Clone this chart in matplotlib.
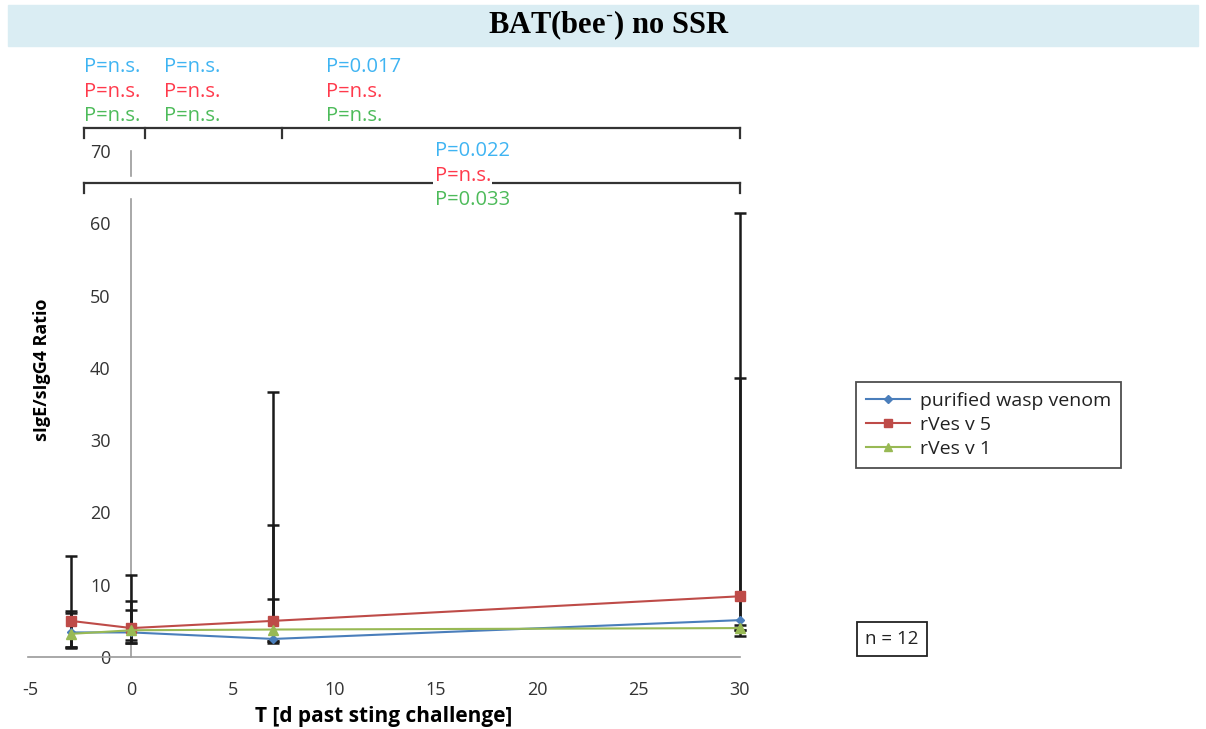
import numpy as np
import matplotlib.pyplot as plt
from matplotlib.patches import Rectangle

plt.rcParams['font.family'] = ['Open Sans', 'DejaVu Sans']
plt.rcParams['mathtext.fontset'] = 'stix'
plt.rcParams['axes.unicode_minus'] = False

# data
days = [-3, 0, 7, 30]
names = ['purified wasp venom', 'rVes v 5', 'rVes v 1']
wasp = [3.4, 3.4, 2.5, 5.1]
wasp_lo = [1.2, 2.4, 2.2, 2.9]
wasp_hi = [6.4, 7.7, 18.3, 38.6]
ves5 = [5.0, 4.0, 5.0, 8.4]
ves5_lo = [1.4, 2.0, 2.2, 3.7]
ves5_hi = [14.0, 11.4, 36.7, 61.4]
ves1 = [3.2, 3.7, 3.8, 4.0]
ves1_lo = [1.4, 2.0, 2.0, 3.7]
ves1_hi = [6.1, 6.5, 8.0, 4.4]

colors = ['#4a7ebb', '#be4b48', '#98b954']
markers = ['D', 's', '^']
msizes = [4.5, 6.5, 7]

pcol = ['#3fb4f2', '#ff3a4c', '#4dbb5a']
# p-values: per bracket, blue/red/green rows
p_top = [['P=n.s.', 'P=n.s.', 'P=n.s.'],
         ['P=n.s.', 'P=n.s.', 'P=n.s.'],
         ['P=0.017', 'P=n.s.', 'P=n.s.']]
p_long = ['P=0.022', 'P=n.s.', 'P=0.033']

W, H = 1206, 729
fig = plt.figure(figsize=(W / 100, H / 100), dpi=100)

# title banner
fig.patches.append(Rectangle((8 / W, 1 - 46 / H), 1190 / W, 41 / H,
                             transform=fig.transFigure, color='#daedf3', zorder=0))
fig.text(609 / W, 1 - 25 / H, r'BAT(bee$^{\text{-}}$) no SSR', ha='center', va='center',
         fontsize=22, fontweight='bold', family='Liberation Serif')

ax = fig.add_axes([28 / W, 72 / H, 712 / W, 506 / H])
ax.set_xlim(-5.1, 30)
ax.set_ylim(0, 70)

series = [(wasp, wasp_lo, wasp_hi), (ves5, ves5_lo, ves5_hi), (ves1, ves1_lo, ves1_hi)]
for (v, lo, hi) in series:
    v = np.array(v)
    yerr = [v - np.array(lo), np.array(hi) - v]
    eb = ax.errorbar(days, v, yerr=yerr, fmt='none', ecolor='#1a1a1a', elinewidth=1.8,
                     capsize=4, capthick=1.8, zorder=3)
    for art in eb.lines[1] + eb.lines[2]:
        art.set_clip_on(False)
for (v, lo, hi), c, m, ms, nm in zip(series, colors, markers, msizes, names):
    ax.plot(days, v, color=c, marker=m, markersize=ms, linewidth=1.5, label=nm, zorder=4,
            clip_on=False)

for s in ['top', 'right']:
    ax.spines[s].set_visible(False)
ax.spines['left'].set_position(('data', 0))
ax.spines['left'].set_color('#9a9a9a')
ax.spines['bottom'].set_color('#9a9a9a')
ax.spines['left'].set_linewidth(1.2)
ax.spines['bottom'].set_linewidth(1.2)
ax.set_xticks([-5, 0, 5, 10, 15, 20, 25, 30])
ax.set_yticks(range(0, 71, 10))
ax.tick_params(axis='both', length=0, labelsize=13, colors='#333333')
ax.tick_params(axis='y', pad=15)
ax.tick_params(axis='x', pad=17)
ax.set_xlabel('T [d past sting challenge]', fontsize=15, fontweight='bold', labelpad=5)
fig.text(42 / W, 1 - 370 / H, 'sIgE/sIgG4 Ratio', rotation=90, ha='center', va='center',
         fontsize=13, fontweight='bold')

# brackets
kw = dict(color='#333333', linewidth=1.6, clip_on=False, zorder=5)
ytop, ylong, tick = 73.2, 65.6, 1.4
ax.plot([-2.36, 30], [ytop, ytop], **kw)
for xb in [-2.36, 0.69, 7.44, 30]:
    ax.plot([xb, xb], [ytop, ytop - tick], **kw)
ax.plot([-2.36, 30], [ylong, ylong], **kw)
for xb in [-2.36, 30]:
    ax.plot([xb, xb], [ylong, ylong - tick], **kw)
ax.add_patch(Rectangle((-0.25, 63.6), 0.5, 2.8, color='white', zorder=4, clip_on=False))

tx = [-2.36, 1.6, 9.6]
for x0, rows in zip(tx, p_top):
    for i, t in enumerate(rows):
        ax.text(x0, 81.6 - i * 3.4, t, color=pcol[i], fontsize=14.5, ha='left', va='center',
                clip_on=False)
for i, t in enumerate(p_long):
    bb = dict(facecolor='white', edgecolor='none', pad=1) if i == 1 else None
    ax.text(14.95, 70.0 - i * 3.4, t, color=pcol[i], fontsize=14.5, ha='left', va='center',
            clip_on=False, bbox=bb, zorder=6)

leg = fig.legend(loc='center left', bbox_to_anchor=(856 / W, 1 - 425 / H), fontsize=14,
                 frameon=True, fancybox=False, edgecolor='#222222', handlelength=2.3,
                 handletextpad=0.5, labelspacing=0.32, borderpad=0.5, markerscale=0.85,
                 borderaxespad=0)
leg.get_frame().set_linewidth(1.3)
for t in leg.get_texts():
    t.set_color('#222222')

fig.text(892 / W, 1 - 639 / H, 'n = 12', ha='center', va='center', fontsize=13.5,
         color='#222222', bbox=dict(facecolor='white', edgecolor='#222222', pad=6, linewidth=1.3))

fig.savefig('out.png', dpi=100)
